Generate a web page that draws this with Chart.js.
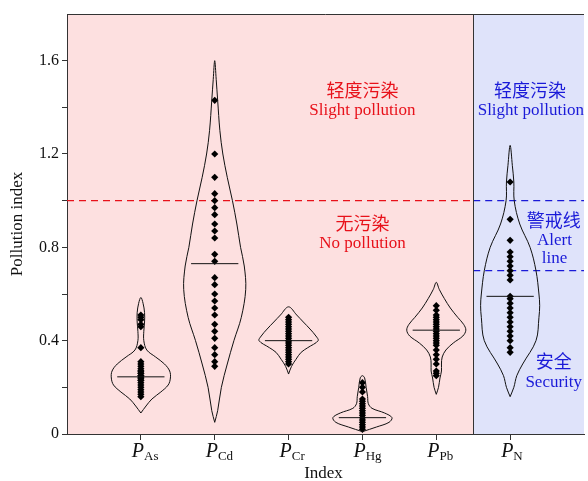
<!DOCTYPE html>
<html>
<head>
<meta charset="utf-8">
<script src="https://cdn.jsdelivr.net/npm/chart.js@4.4.1/dist/chart.umd.min.js"></script>
<style>
  body { margin: 0; background: #fff; }
</style>
</head>
<body>
<canvas id="violin" width="588" height="481"></canvas>
<script>
// categories (subscripts of P) and their positions on the x axis
const categories = ["As", "Cd", "Cr", "Hg", "Pb", "N"];

// sample values read from the diamonds
const pAs = [0.51, 0.50, 0.49, 0.47, 0.46, 0.37, 0.31, 0.30, 0.29, 0.28, 0.27, 0.27, 0.26, 0.26, 0.25, 0.25, 0.24, 0.24, 0.23, 0.23, 0.22, 0.21, 0.20, 0.19, 0.18, 0.17, 0.16];
const pCd = [1.43, 1.20, 1.10, 1.03, 1.00, 0.97, 0.94, 0.90, 0.87, 0.84, 0.77, 0.74, 0.67, 0.64, 0.60, 0.57, 0.54, 0.51, 0.47, 0.44, 0.41, 0.37, 0.34, 0.31, 0.29];
const pCr = [0.50, 0.49, 0.48, 0.47, 0.46, 0.45, 0.44, 0.43, 0.42, 0.41, 0.40, 0.40, 0.39, 0.38, 0.37, 0.36, 0.35, 0.34, 0.33, 0.32, 0.31, 0.30];
const pHg = [0.22, 0.20, 0.18, 0.15, 0.14, 0.13, 0.12, 0.11, 0.10, 0.09, 0.08, 0.07, 0.06, 0.05, 0.04, 0.03, 0.02];
const pPb = [0.55, 0.53, 0.51, 0.50, 0.49, 0.48, 0.47, 0.46, 0.45, 0.44, 0.43, 0.42, 0.41, 0.40, 0.39, 0.38, 0.36, 0.34, 0.32, 0.30, 0.27, 0.26, 0.25];
const pN = [1.08, 0.92, 0.83, 0.78, 0.76, 0.74, 0.72, 0.70, 0.68, 0.66, 0.59, 0.58, 0.56, 0.54, 0.52, 0.50, 0.48, 0.46, 0.44, 0.42, 0.40, 0.37, 0.35];
const samples = [pAs, pCd, pCr, pHg, pPb, pN];

// medians (horizontal bar in each violin)
const medians = [0.245, 0.73, 0.40, 0.07, 0.445, 0.59];

// violin outlines: [value, half width in category units]
const shapeAs = [[0.09, 0], [0.12, 0.07], [0.15, 0.15], [0.18, 0.27], [0.21, 0.37], [0.24, 0.40], [0.27, 0.39], [0.30, 0.32], [0.33, 0.20], [0.36, 0.08], [0.40, 0.04], [0.44, 0.04], [0.48, 0.05], [0.52, 0.05], [0.56, 0.03], [0.585, 0]];
const shapeCd = [[0.05, 0], [0.10, 0.04], [0.20, 0.09], [0.30, 0.17], [0.40, 0.26], [0.50, 0.36], [0.62, 0.42], [0.72, 0.40], [0.80, 0.35], [0.90, 0.30], [1.00, 0.24], [1.10, 0.17], [1.20, 0.11], [1.30, 0.07], [1.43, 0.04], [1.52, 0.02], [1.60, 0]];
const shapeCr = [[0.257, 0], [0.29, 0.04], [0.32, 0.10], [0.35, 0.17], [0.37, 0.26], [0.40, 0.40], [0.42, 0.37], [0.45, 0.29], [0.48, 0.20], [0.51, 0.11], [0.545, 0]];
const shapeHg = [[0.01, 0], [0.03, 0.19], [0.05, 0.36], [0.07, 0.40], [0.09, 0.30], [0.11, 0.13], [0.13, 0.08], [0.16, 0.07], [0.20, 0.05], [0.24, 0.03], [0.25, 0]];
const shapePb = [[0.17, 0], [0.20, 0.03], [0.24, 0.05], [0.27, 0.07], [0.30, 0.07], [0.33, 0.08], [0.36, 0.13], [0.39, 0.23], [0.42, 0.36], [0.445, 0.40], [0.47, 0.37], [0.50, 0.29], [0.54, 0.19], [0.58, 0.11], [0.62, 0.04], [0.65, 0]];
const shapeN = [[0.16, 0], [0.20, 0.05], [0.25, 0.09], [0.30, 0.17], [0.40, 0.35], [0.50, 0.39], [0.55, 0.40], [0.60, 0.39], [0.70, 0.35], [0.80, 0.27], [0.90, 0.13], [1.00, 0.055], [1.08, 0.05], [1.15, 0.03], [1.237, 0]];
const shapes = [shapeAs, shapeCd, shapeCr, shapeHg, shapePb, shapeN];

const yTicks = [0, 0.4, 0.8, 1.2, 1.6];
const warnLine = 1.0;   // slight pollution threshold
const alertLine = 0.7;  // alert line for P_N
const splitX = 5.5;     // border between the two panels

const RED = "#e8111a";
const BLUE = "#1a1ad8";
const FONT = "'Liberation Serif', 'Noto Sans CJK SC', serif";

const notes = [
  { text: "轻度污染", x: 4.0, y: 1.463, color: RED, size: 18 },
  { text: "Slight pollution", x: 4.0, y: 1.386, color: RED, size: 17 },
  { text: "无污染", x: 4.0, y: 0.894, color: RED, size: 18 },
  { text: "No pollution", x: 4.0, y: 0.817, color: RED, size: 17 },
  { text: "轻度污染", x: 6.27, y: 1.463, color: BLUE, size: 18 },
  { text: "Slight pollution", x: 6.28, y: 1.386, color: BLUE, size: 17 },
  { text: "警戒线", x: 6.59, y: 0.907, color: BLUE, size: 18 },
  { text: "Alert", x: 6.6, y: 0.83, color: BLUE, size: 17 },
  { text: "line", x: 6.6, y: 0.753, color: BLUE, size: 17 },
  { text: "安全", x: 6.59, y: 0.304, color: BLUE, size: 18 },
  { text: "Security", x: 6.59, y: 0.222, color: BLUE, size: 17 }
];

const datasets = [];

shapes.forEach(function (shape, i) {
  const cx = i + 1;
  const right = shape.map(p => ({ x: cx + p[1], y: p[0] }));
  const left = shape.slice().reverse().map(p => ({ x: cx - p[1], y: p[0] }));
  datasets.push({
    type: "scatter",
    data: right.concat(left.slice(1)),
    showLine: true,
    borderColor: "#111",
    borderWidth: 1,
    pointRadius: 0,
    tension: 0.35,
    fill: false
  });
});

medians.forEach(function (m, i) {
  datasets.push({
    type: "scatter",
    data: [{ x: i + 1 - 0.32, y: m }, { x: i + 1 + 0.32, y: m }],
    showLine: true,
    borderColor: "#111",
    borderWidth: 1,
    pointRadius: 0
  });
});

samples.forEach(function (vals, i) {
  datasets.push({
    type: "scatter",
    data: vals.map(v => ({ x: i + 1, y: v })),
    pointStyle: "rectRot",
    pointRadius: 3.6,
    backgroundColor: "#000",
    borderColor: "#000",
    borderWidth: 0
  });
});

function hLine(y, x0, x1, color) {
  return {
    type: "scatter",
    data: [{ x: x0, y: y }, { x: x1, y: y }],
    showLine: true,
    borderColor: color,
    borderWidth: 1.2,
    borderDash: [7, 5],
    pointRadius: 0
  };
}
datasets.push(hLine(warnLine, 0, splitX, RED));
datasets.push(hLine(warnLine, splitX, 7, BLUE));
datasets.push(hLine(alertLine, splitX, 7, BLUE));

const panels = {
  id: "panels",
  beforeDraw(chart) {
    const { ctx, chartArea: a, scales: { x, y } } = chart;
    const sx = x.getPixelForValue(splitX);
    ctx.save();
    ctx.fillStyle = "#fde0e0";
    ctx.fillRect(a.left, a.top, sx - a.left, a.bottom - a.top);
    ctx.fillStyle = "#dfe3fa";
    ctx.fillRect(sx, a.top, a.right - sx, a.bottom - a.top);
    ctx.restore();
  },
  afterDraw(chart) {
    const { ctx, chartArea: a, scales: { x, y } } = chart;
    const sx = x.getPixelForValue(splitX);
    ctx.save();
    ctx.strokeStyle = "#333";
    ctx.lineWidth = 1;
    ctx.beginPath();
    ctx.moveTo(a.left, a.top + 0.5);
    ctx.lineTo(a.right, a.top + 0.5);
    ctx.moveTo(Math.round(sx) + 0.5, a.top);
    ctx.lineTo(Math.round(sx) + 0.5, a.bottom);
    ctx.stroke();

    ctx.textAlign = "center";
    ctx.textBaseline = "middle";
    notes.forEach(function (n) {
      ctx.font = n.size + "px " + FONT;
      ctx.fillStyle = n.color;
      ctx.fillText(n.text, x.getPixelForValue(n.x), y.getPixelForValue(n.y));
    });

    // category labels: italic P with subscript
    ctx.fillStyle = "#111";
    ctx.textAlign = "left";
    ctx.textBaseline = "alphabetic";
    categories.forEach(function (c, i) {
      const px = x.getPixelForValue(i + 1) - 9;
      ctx.font = "italic 20px " + FONT;
      ctx.fillText("P", px, a.bottom + 23);
      const w = ctx.measureText("P").width;
      ctx.font = "13px " + FONT;
      ctx.fillText(c, px + w, a.bottom + 26);
    });

    // axis titles
    ctx.textAlign = "center";
    ctx.font = "17px " + FONT;
    ctx.fillText("Index", (a.left + a.right) / 2 - 2, 478);
    ctx.translate(18, (a.top + a.bottom) / 2);
    ctx.rotate(-Math.PI / 2);
    ctx.textBaseline = "middle";
    ctx.fillText("Pollution index", 0, 0);
    ctx.restore();
  }
};

Chart.defaults.font.family = FONT;

new Chart(document.getElementById("violin"), {
  type: "scatter",
  data: { datasets: datasets },
  options: {
    responsive: false,
    animation: false,
    layout: { padding: { top: 14, right: 0, left: 0, bottom: 0 } },
    plugins: {
      legend: { display: false },
      tooltip: { enabled: false }
    },
    scales: {
      x: {
        type: "linear",
        min: 0,
        max: 7,
        afterBuildTicks: function (scale) {
          scale.ticks = categories.map((c, i) => ({ value: i + 1 }));
        },
        afterFit: function (scale) { scale.height = 47; },
        ticks: { callback: () => "", padding: 0 },
        grid: { drawOnChartArea: false, tickLength: 6, color: "#333" },
        border: { color: "#333", width: 1 }
      },
      y: {
        min: 0,
        max: 1.8,
        afterBuildTicks: function (scale) {
          const t = [];
          for (let k = 0; k <= 8; k++) t.push({ value: k * 0.2 });
          scale.ticks = t;
        },
        afterFit: function (scale) { scale.width = 67; },
        ticks: {
          padding: 3,
          color: "#111",
          font: { size: 16 },
          callback: function (v) {
            const hit = yTicks.find(t => Math.abs(t - v) < 1e-6);
            if (hit === undefined) return "";
            return hit === 0 ? "0" : hit.toFixed(1);
          }
        },
        grid: { drawOnChartArea: false, tickLength: 5, color: "#333" },
        border: { color: "#333", width: 1 }
      }
    }
  },
  plugins: [panels]
});
</script>
</body>
</html>
